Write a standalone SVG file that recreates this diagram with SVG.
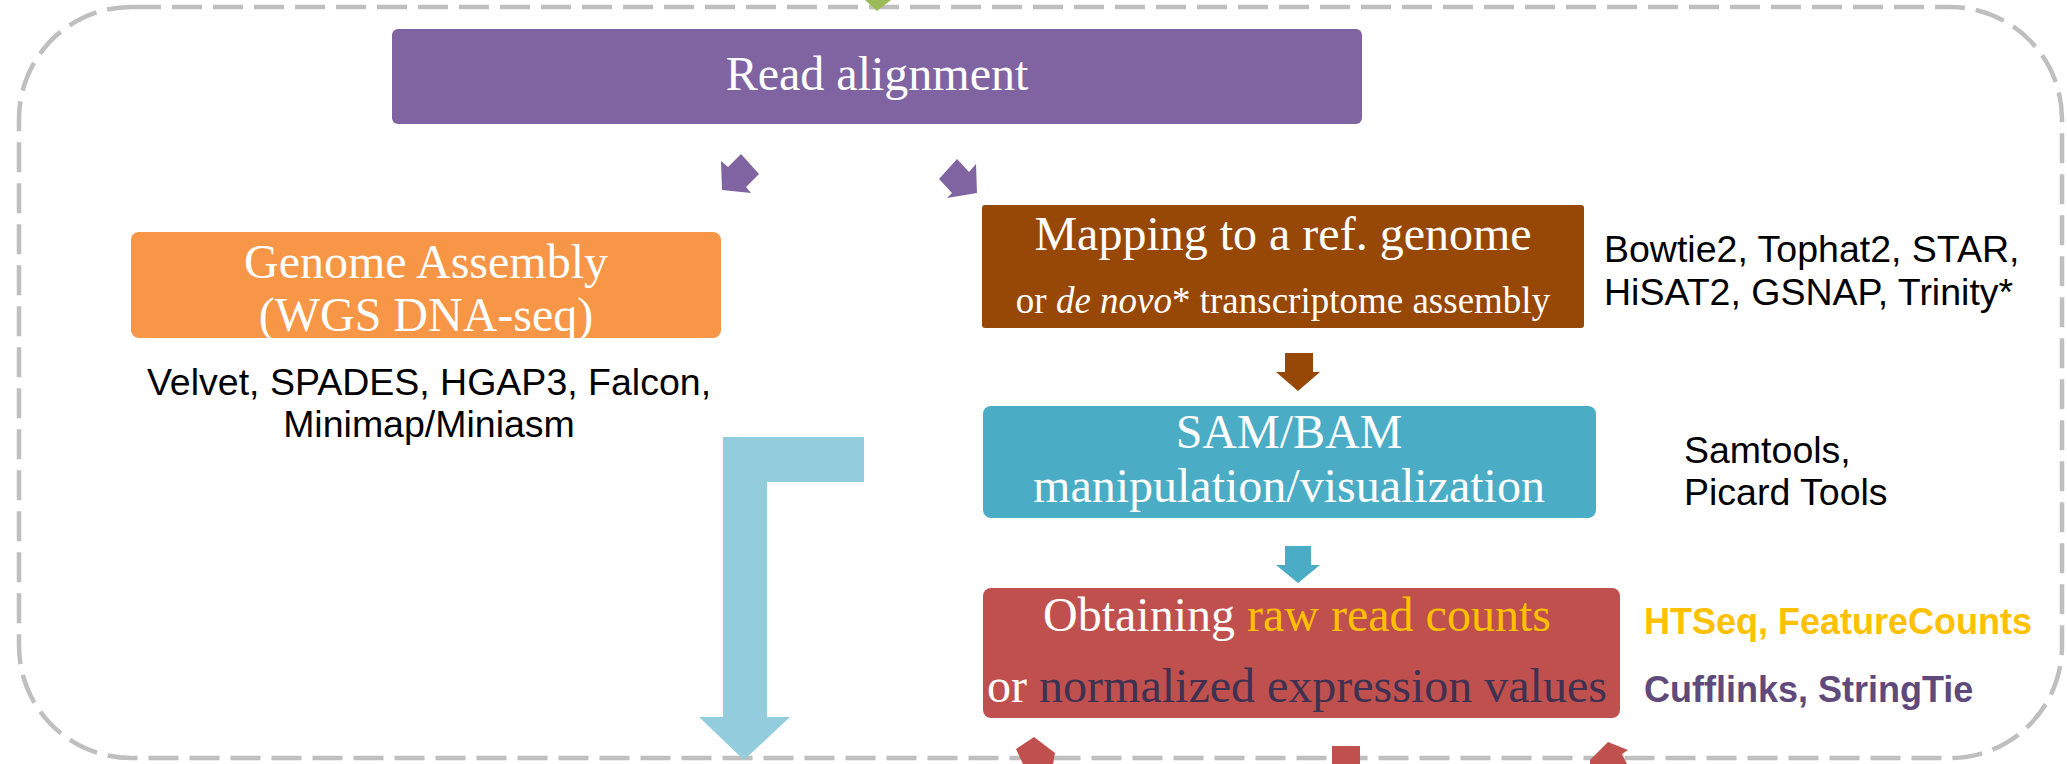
<svg xmlns="http://www.w3.org/2000/svg" width="2067" height="764" viewBox="0 0 2067 764">
<style>
.serif{font-family:"Liberation Serif","Times New Roman",serif;font-size:48px;fill:#FFFFFF;text-anchor:middle}
.sans{font-family:"Liberation Sans",Arial,sans-serif;font-size:37.5px;fill:#000000}
.bold{font-weight:bold;font-size:36px}
</style>
<rect width="2067" height="764" fill="#FFFFFF"/>
<g id="container">
<rect x="19" y="7" width="2043" height="751" rx="112" ry="112" fill="none" stroke="#BFBFBF" stroke-width="4.5" stroke-dasharray="30 11"/>
</g>
<g id="connectors">
<polygon points="865,0 891,0 877,11" fill="#9BBB59"/>
<polygon points="721,161 722,190 751,193 746,187 759,174 741,154 728,167" fill="#8064A2"/>
<polygon points="976,164 977,193 947,198 952,193 939,179 957,159 969,172" fill="#8064A2"/>
<polygon points="1285,353 1313,353 1313,372 1320,372 1298,391 1276,372 1285,372" fill="#974806"/>
<polygon points="1285,546 1311,546 1311,565 1320,565 1298,583 1276,565 1285,565" fill="#4BACC6"/>
<polygon points="723,437 864,437 864,482 767,482 767,717 790,717 744,760 699,717 723,717" fill="#93CDDD"/>
<polygon points="1016,749 1034,737 1055,753 1053,764 1023,764" fill="#C0504D"/>
<rect x="1332" y="746" width="28" height="18" fill="#C0504D"/>
<polygon points="1590,760 1608,742 1628,750 1622,754 1627,764 1590,764" fill="#C0504D"/>
</g>
<g id="read-alignment">
<rect x="392" y="29" width="970" height="95" rx="6" fill="#8064A2"/>
<text class="serif" x="877" y="90">Read alignment</text>
</g>
<g id="genome-assembly">
<rect x="131" y="232" width="590" height="106" rx="8" fill="#F79646"/>
<text class="serif" x="426" y="278">Genome Assembly</text>
<text class="serif" x="426" y="331">(WGS DNA-seq)</text>
</g>
<g id="genome-tools">
<text class="sans" x="429" y="395" text-anchor="middle">Velvet, SPADES, HGAP3, Falcon,</text>
<text class="sans" x="429" y="437" text-anchor="middle">Minimap/Miniasm</text>
</g>
<g id="mapping">
<rect x="982" y="205" width="602" height="123" rx="3" fill="#974806"/>
<text class="serif" x="1283" y="250">Mapping to a ref. genome</text>
<text class="serif" x="1283" y="313" style="font-size:37px">or <tspan font-style="italic">de novo</tspan>* transcriptome assembly</text>
</g>
<g id="mapping-tools">
<text class="sans" x="1604" y="262">Bowtie2, Tophat2, STAR,</text>
<text class="sans" x="1604" y="305">HiSAT2, GSNAP, Trinity*</text>
</g>
<g id="sam-bam">
<rect x="983" y="406" width="613" height="112" rx="8" fill="#4BACC6"/>
<text class="serif" x="1289" y="448">SAM/BAM</text>
<text class="serif" x="1289" y="502">manipulation/visualization</text>
</g>
<g id="sam-tools">
<text class="sans" x="1684" y="463">Samtools,</text>
<text class="sans" x="1684" y="505">Picard Tools</text>
</g>
<g id="counts">
<rect x="983" y="588" width="637" height="130" rx="8" fill="#C0504D"/>
<text class="serif" x="1297" y="631">Obtaining <tspan fill="#FFC000">raw read counts</tspan></text>
<text class="serif" x="1297" y="702">or <tspan fill="#3F3151">normalized expression values</tspan></text>
</g>
<g id="count-tools">
<text class="sans bold" x="1644" y="634" style="fill:#FFC000">HTSeq, FeatureCounts</text>
<text class="sans bold" x="1644" y="702" style="fill:#604A7B">Cufflinks, StringTie</text>
</g>
</svg>
